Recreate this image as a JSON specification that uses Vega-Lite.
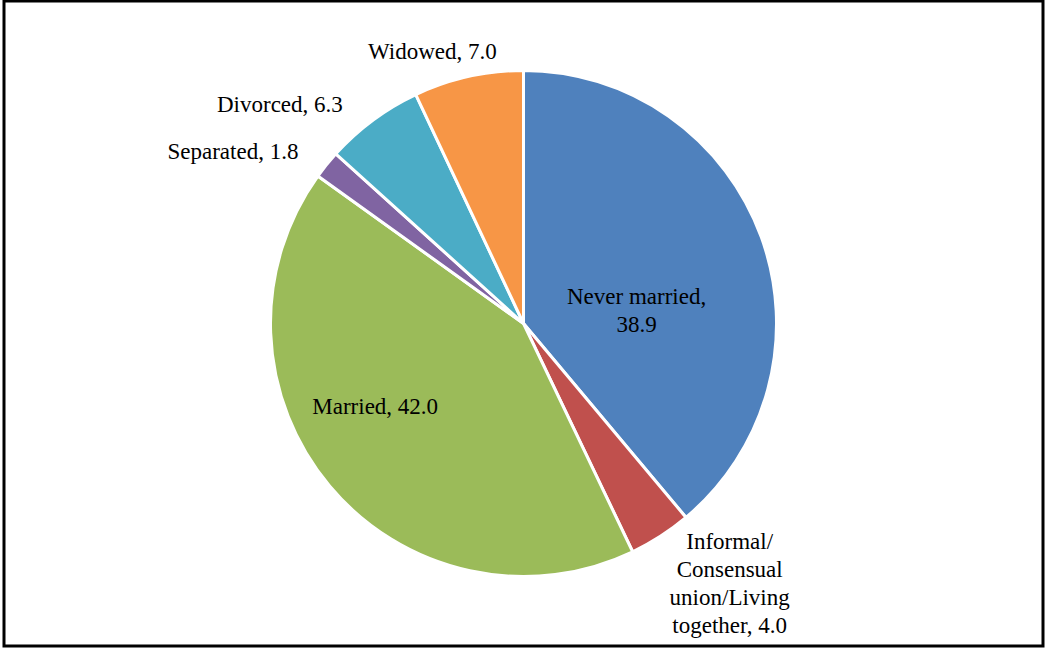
{
  "$schema": "https://vega.github.io/schema/vega-lite/v6.json",
  "autosize": "none",
  "width": 1039,
  "height": 645,
  "padding": {"left": 4, "top": 1, "right": 3, "bottom": 2},
  "background": "white",
  "config": {"view": {"stroke": null}},
  "data": {
    "values": [
      {"k": 1, "category": "Never married", "value": 38.9, "label": "Never married,\n38.9"},
      {"k": 2, "category": "Informal/Consensual union/Living together", "value": 4.0, "label": "Informal/\nConsensual\nunion/Living\ntogether, 4.0"},
      {"k": 3, "category": "Married", "value": 42.0, "label": "Married,  42.0"},
      {"k": 4, "category": "Separated", "value": 1.8, "label": "Separated, 1.8"},
      {"k": 5, "category": "Divorced", "value": 6.3, "label": "Divorced, 6.3"},
      {"k": 6, "category": "Widowed", "value": 7.0, "label": "Widowed, 7.0"}
    ]
  },
  "layer": [
    {
      "data": {"values": [{"frame": 1}]},
      "mark": {"type": "rect", "fill": null, "stroke": "#000000", "strokeWidth": 3},
      "encoding": {
        "x": {"value": 0},
        "x2": {"value": "width"},
        "y": {"value": 0},
        "y2": {"value": "height"}
      }
    },
    {
      "encoding": {
        "theta": {"field": "value", "type": "quantitative", "stack": true},
        "order": {"field": "k", "type": "quantitative"}
      },
      "layer": [
        {
          "mark": {"type": "arc", "radius": 253, "stroke": "white", "strokeWidth": 3},
          "encoding": {
            "color": {
              "field": "category",
              "type": "nominal",
              "scale": {
                "domain": ["Never married", "Informal/Consensual union/Living together", "Married", "Separated", "Divorced", "Widowed"],
                "range": ["#4F81BD", "#C0504D", "#9BBB59", "#8064A2", "#4BACC6", "#F79646"]
              },
              "legend": null
            }
          }
        },
        {
          "mark": {"type": "text", "radius": 115, "dx": 5, "dy": 13, "font": "Liberation Serif", "fontSize": 23, "lineBreak": "\n", "lineHeight": 28, "align": "center", "baseline": "middle", "color": "#000000"},
          "encoding": {"text": {"condition": {"test": "datum.category == 'Never married'", "field": "label"}, "value": ""}}
        },
        {
          "mark": {"type": "text", "radius": 320, "dx": 33, "dy": -51, "font": "Liberation Serif", "fontSize": 23, "lineBreak": "\n", "lineHeight": 28, "align": "center", "baseline": "middle", "color": "#000000"},
          "encoding": {"text": {"condition": {"test": "datum.category == 'Informal/Consensual union/Living together'", "field": "label"}, "value": ""}}
        },
        {
          "mark": {"type": "text", "radius": 170, "dx": -18, "dy": -26, "font": "Liberation Serif", "fontSize": 23, "lineBreak": "\n", "lineHeight": 28, "align": "center", "baseline": "middle", "color": "#000000"},
          "encoding": {"text": {"condition": {"test": "datum.category == 'Married'", "field": "label"}, "value": ""}}
        },
        {
          "mark": {"type": "text", "radius": 300, "dx": -57, "dy": 17, "font": "Liberation Serif", "fontSize": 23, "lineBreak": "\n", "lineHeight": 28, "align": "center", "baseline": "middle", "color": "#000000"},
          "encoding": {"text": {"condition": {"test": "datum.category == 'Separated'", "field": "label"}, "value": ""}}
        },
        {
          "mark": {"type": "text", "radius": 300, "dx": -65, "dy": 23, "font": "Liberation Serif", "fontSize": 23, "lineBreak": "\n", "lineHeight": 28, "align": "center", "baseline": "middle", "color": "#000000"},
          "encoding": {"text": {"condition": {"test": "datum.category == 'Divorced'", "field": "label"}, "value": ""}}
        },
        {
          "mark": {"type": "text", "radius": 280, "dx": -30, "dy": 2, "font": "Liberation Serif", "fontSize": 23, "lineBreak": "\n", "lineHeight": 28, "align": "center", "baseline": "middle", "color": "#000000"},
          "encoding": {"text": {"condition": {"test": "datum.category == 'Widowed'", "field": "label"}, "value": ""}}
        }
      ]
    }
  ]
}
